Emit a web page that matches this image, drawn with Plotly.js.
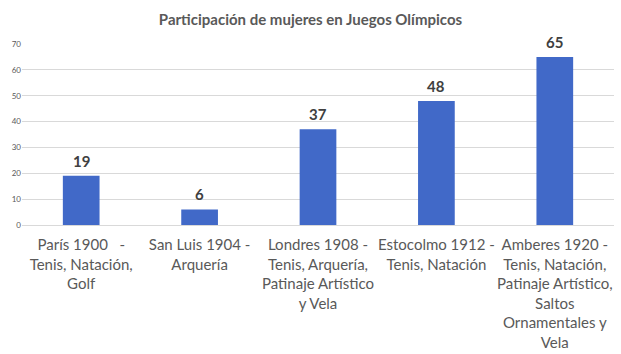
<!DOCTYPE html>
<html>
<head>
<meta charset="utf-8">
<script src="https://cdn.plot.ly/plotly-3.0.1.min.js"></script>
<style>html,body{margin:0;padding:0;background:#fff;}#chart{width:621px;height:354px;}</style>
</head>
<body>
<div id="chart"></div>
<script>
var categories = [
  "París 1900   -<br>Tenis, Natación,<br>Golf",
  "San Luis 1904 -<br>Arquería",
  "Londres 1908 -<br>Tenis, Arquería,<br>Patinaje Artístico<br>y Vela",
  "Estocolmo 1912 -<br>Tenis, Natación",
  "Amberes 1920 -<br>Tenis, Natación,<br>Patinaje Artístico,<br>Saltos<br>Ornamentales y<br>Vela"
];
var values = [19, 6, 37, 48, 65];
var yTicks = [0, 10, 20, 30, 40, 50, 60, 70];

var trace = {
  type: 'bar',
  x: categories,
  y: values,
  marker: {color: '#4169C8'},
  hoverinfo: 'none'
};

var annotations = categories.map(function (c, i) {
  return {
    x: c, y: values[i], xref: 'x', yref: 'y',
    text: '<b>' + values[i] + '</b>',
    showarrow: false, yanchor: 'bottom', yshift: 4,
    font: {family: 'Lato, "Open Sans", sans-serif', size: 15, color: '#404040'}
  };
});

var layout = {
  width: 621, height: 354,
  margin: {l: 22, r: 7, t: 44, b: 129},
  paper_bgcolor: '#fff', plot_bgcolor: '#fff',
  bargap: 0.69,
  showlegend: false,
  annotations: annotations,
  title: {
    text: '<b>Participación de mujeres en Juegos Olímpicos</b>',
    font: {family: 'Lato, "Open Sans", sans-serif', size: 15, color: '#595959'},
    x: 0.5, xanchor: 'center', y: 0.945, yanchor: 'middle'
  },
  xaxis: {
    tickfont: {family: 'Lato, "Open Sans", sans-serif', size: 15, color: '#595959'},
    showgrid: false, zeroline: false, showline: false, ticks: '',
    ticklabelstandoff: 9,
    automargin: false, tickangle: 0
  },
  yaxis: {
    range: [0, 70],
    tickvals: yTicks,
    ticktext: yTicks.map(String),
    tickfont: {family: 'Lato, "Open Sans", sans-serif', size: 8, color: '#595959'},
    showgrid: true, gridcolor: '#D9D9D9', gridwidth: 1,
    zeroline: true, zerolinecolor: '#D9D9D9', zerolinewidth: 1,
    showline: false, ticks: '', automargin: false
  }
};

Plotly.newPlot('chart', [trace], layout, {staticPlot: true, displayModeBar: false});
</script>
</body>
</html>
